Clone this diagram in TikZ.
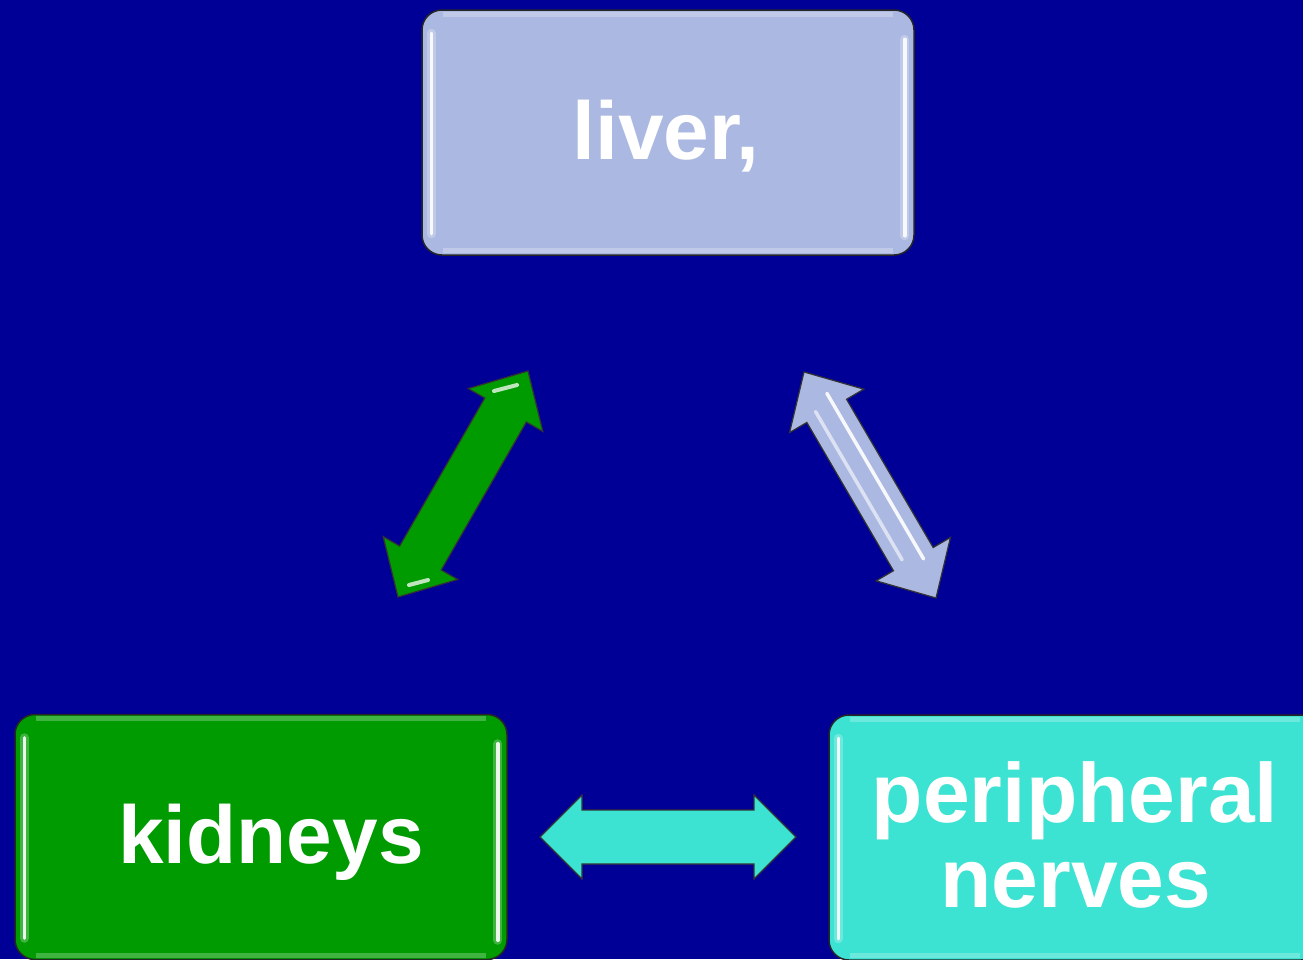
\documentclass[tikz,border=0pt]{standalone}
\usepackage{fontspec}
\setmainfont{Liberation Sans}
\usetikzlibrary{calc}
\definecolor{bgblue}{RGB}{0,0,150}
\definecolor{liverc}{RGB}{171,184,225}
\definecolor{kidc}{RGB}{0,155,0}
\definecolor{nervec}{RGB}{60,226,210}
\newcommand\dblarrow[6]{%
  \coordinate (#1h) at ($(#1)!#3!(#2)$);
  \coordinate (#2h) at ($(#2)!#3!(#1)$);
  \draw[#6] (#1) -- ($(#1h)!#4!90:(#1)$) -- ($(#1h)!#5!90:(#1)$)
    -- ($(#2h)!#5!-90:(#2)$) -- ($(#2h)!#4!-90:(#2)$) -- (#2)
    -- ($(#2h)!#4!90:(#2)$) -- ($(#2h)!#5!90:(#2)$)
    -- ($(#1h)!#5!-90:(#1)$) -- ($(#1h)!#4!-90:(#1)$) -- cycle;
}
\tikzset{
  box/.style={draw=black!85, line width=1.5pt, rounded corners=20pt,
    minimum width=492pt, minimum height=245pt, inner sep=0pt},
  lbl/.style={text=white, inner sep=0pt,
    font=\bfseries\fontsize{82}{85}\selectfont},
  lblb/.style={text=white, inner sep=0pt,
    font=\bfseries\fontsize{84}{85}\selectfont},
  glow/.style={white, line width=9pt, line cap=round, opacity=0.25},
  hl/.style={white, line width=3.5pt, line cap=round, opacity=0.9},
  soft/.style={white, line width=5pt, opacity=0.25},
  gloss/.style={white, line width=4pt, line cap=round, opacity=0.75},
  arr/.style={draw=black!80, line width=1.2pt, line join=miter},
}
\begin{document}
\begin{tikzpicture}[x=1pt,y=-1pt]
\useasboundingbox (0,0) rectangle (1303,959);
\fill[bgblue] (0,0) rectangle (1303,959);
\begin{scope}
\clip (0,0) rectangle (1303,959);
% boxes
\node[box, fill=liverc] (liver) at (668,132.5) {};
\node[box, fill=kidc] (kidneys) at (261,837) {};
\node[box, fill=nervec] (nerves) at (1075,837.5) {};
% highlights
\foreach \b in {liver,kidneys,nerves}{
  \draw[glow] ([xshift=10pt,yshift=-24pt]\b.north west) -- ([xshift=10pt,yshift=22pt]\b.south west);
  \draw[hl] ([xshift=10pt,yshift=-24pt]\b.north west) -- ([xshift=10pt,yshift=22pt]\b.south west);
  \draw[glow] ([xshift=-10pt,yshift=-30pt]\b.north east) -- ([xshift=-10pt,yshift=20pt]\b.south east);
  \draw[hl] ([xshift=-10pt,yshift=-30pt]\b.north east) -- ([xshift=-10pt,yshift=20pt]\b.south east);
  \draw[soft] ([xshift=22pt,yshift=-5pt]\b.north west) -- ([xshift=-22pt,yshift=-5pt]\b.north east);
  \draw[soft] ([xshift=22pt,yshift=5pt]\b.south west) -- ([xshift=-22pt,yshift=5pt]\b.south east);
}
% texts
\node[lbl, anchor=base] (livertext) at (666,159) {liver,};
\node[lbl, anchor=base] (kidtext) at (271,863) {kidneys};
\node[lblb, anchor=base] (nervetexta) at (1075,822) {peripheral};
\node[lblb, anchor=base] (nervetextb) at (1076,907) {nerves};
% arrows
\coordinate (gA) at (398,597);
\coordinate (gB) at (528,371);
\coordinate (lA) at (804,372);
\coordinate (lB) at (936,598);
\coordinate (cA) at (540,837);
\coordinate (cB) at (796,837);
\dblarrow{gA}{gB}{45pt}{43pt}{24pt}{arr, fill=kidc}
\dblarrow{lA}{lB}{45pt}{43pt}{23pt}{arr, fill=liverc}
\dblarrow{cA}{cB}{42pt}{42pt}{27pt}{arr, fill=nervec}
% gloss on lavender arrow
\draw[hl] ($ ($(lA)!30pt!(lB)$)!9pt!90:(lB) $) -- ($ ($(lB)!40pt!(lA)$)!9pt!-90:(lA) $);
\draw[hl, opacity=0.6] ($ ($(lA)!40pt!(lB)$)!10pt!-90:(lB) $) -- ($ ($(lB)!50pt!(lA)$)!10pt!90:(lA) $);
% gloss on green arrow
\draw[gloss] (494,391) -- (517,385);
\draw[gloss] (409,585) -- (428,580);
\end{scope}
\end{tikzpicture}
\end{document}
